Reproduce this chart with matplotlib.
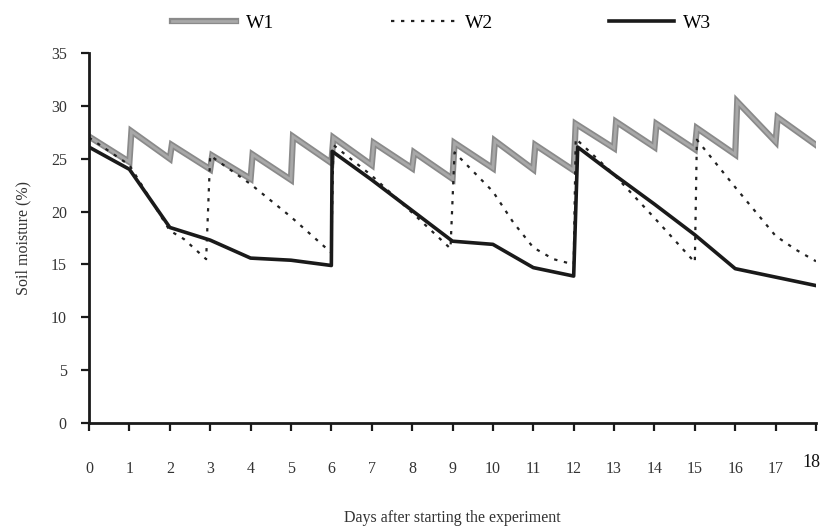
import matplotlib
matplotlib.use('Agg')
import matplotlib.pyplot as plt
import matplotlib.patheffects as pe
from matplotlib.transforms import ScaledTranslation

# soil moisture (%), days after start
w1_days = [0, 1, 1.05, 2, 2.05, 3, 3.05, 4, 4.05, 5, 5.05, 6, 6.05, 7, 7.05, 8, 8.05,
           9, 9.05, 10, 10.05, 11, 11.05, 12, 12.05, 13, 13.05, 14, 14.05, 15, 15.05,
           16, 16.05, 17, 17.05, 18]
w1_vals = [27.1, 24.7, 27.6, 25.0, 26.3, 24.0, 25.3, 23.1, 25.4, 23.0, 27.1, 24.6, 27.0,
           24.4, 26.5, 24.1, 25.6, 23.1, 26.5, 24.1, 26.7, 24.0, 26.3, 23.9, 28.3, 26.0,
           28.5, 26.1, 28.3, 25.9, 27.9, 25.4, 30.4, 26.6, 28.9, 26.3]

w2_days = [0, 1, 2, 2.35, 2.9, 3.0, 4, 5, 6.0, 6.05, 7, 8, 8.95, 9.05, 10, 10.5, 11, 11.5,
           12.0, 12.05, 13, 14, 15.0, 15.05, 16, 17, 17.5, 18]
w2_vals = [27.0, 24.4, 18.2, 17.4, 15.5, 25.3, 22.6, 19.5, 16.1, 26.3, 23.4, 19.9, 16.5,
           25.6, 21.9, 19.0, 16.6, 15.5, 15.0, 26.9, 23.5, 19.4, 15.2, 26.8, 22.3, 17.7,
           16.4, 15.3]

w3_days = [0, 1, 2, 3, 4, 5, 6.0, 6.02, 7, 8, 9, 10, 11, 12.0, 12.1, 13, 14, 15, 16, 17, 18]
w3_vals = [26.1, 24.0, 18.5, 17.3, 15.6, 15.4, 14.9, 25.7, 23.0, 20.1, 17.2, 16.9, 14.7,
           13.9, 26.1, 23.5, 20.7, 17.8, 14.6, 13.8, 13.0]

plt.rcParams['font.family'] = ['Liberation Serif', 'DejaVu Serif']

fig = plt.figure(figsize=(8.22, 5.26), dpi=100)
ax = fig.add_axes([0.1083, 0.1958, 0.8844, 0.7034])

ax.plot(w1_days, w1_vals, color='#a8a8a8', lw=2, label='W1', solid_joinstyle='miter',
        path_effects=[pe.Stroke(linewidth=4.5, foreground='#8a8a8a'), pe.Normal()])
ax.plot(w2_days, w2_vals, color='#222222', lw=1.6, ls=(0, (1.5, 3)), label='W2')
ax.plot(w3_days, w3_vals, color='#1a1a1a', lw=2.6, label='W3')

ax.set_xlim(0, 18)
ax.set_ylim(0, 35)
ax.set_xticks(range(19))
ax.set_yticks(range(0, 36, 5))
for s in ['top', 'right']:
    ax.spines[s].set_visible(False)
for s in ['left', 'bottom']:
    ax.spines[s].set_linewidth(2)
    ax.spines[s].set_color('#1a1a1a')
ax.tick_params(axis='both', direction='out', length=6, width=1.6, color='#1a1a1a',
               labelsize=11.5, labelcolor='#333333')
ax.tick_params(axis='x', pad=21)
ax.tick_params(axis='y', pad=10)
lbls = ax.get_xticklabels()
lbls[-1].set_fontsize(13)
lbls[-1].set_color('#111111')
lbls[-1].set_transform(lbls[-1].get_transform() + ScaledTranslation(-3/72, 5/72, fig.dpi_scale_trans))

ax.set_ylabel('Soil moisture (%)', fontsize=11.5, color='#333333', labelpad=14)
ax.set_xlabel('Days after starting the experiment', fontsize=11.5, color='#333333', labelpad=24)

leg = ax.legend(loc='lower center', bbox_to_anchor=(0.485, 1.01), ncol=3, frameon=False,
                fontsize=14, handlelength=3.3, columnspacing=6, handletextpad=0.5)

fig.savefig('out.png', dpi=100)
